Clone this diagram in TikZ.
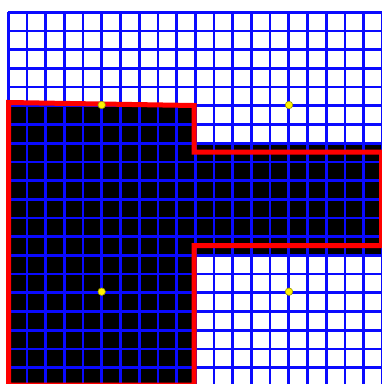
\documentclass[tikz,border=0pt]{standalone}
\usepackage{tikz}
\begin{document}
\begin{tikzpicture}[x=1pt,y=-1pt,
  gridline/.style={draw={rgb,255:red,10;green,10;blue,255},line width=2.7pt},
  outline/.style={draw={rgb,255:red,255;green,0;blue,0},line width=5pt,line join=miter},
  dot/.style={circle,fill=yellow,draw={rgb,255:red,150;green,150;blue,0},line width=0.6pt,inner sep=0pt,minimum size=7.5pt}]
\useasboundingbox (0,0) rectangle (382,384);
\clip (0,0) rectangle (382,384);
\fill[white] (0,0) rectangle (382,384);
\def\xo{8.3}\def\yo{12.3}\def\s{18.7}
% black region (cell aligned)
\fill[black] (\xo,\yo+5*\s) rectangle (\xo+10*\s,400);
\fill[black] (\xo+10*\s,\yo+7*\s) rectangle (\xo+20*\s,\yo+13*\s);
% grid
\foreach \i in {0,...,20}{
  \draw[gridline] (\xo+\i*\s,\yo) -- (\xo+\i*\s,400);
  \draw[gridline] (\xo,\yo+\i*\s) -- (\xo+20*\s+3,\yo+\i*\s);
}
% red outline
\draw[outline] (8.5,102.5) -- (194,105.5) -- (194,152) -- (381.5,152) -- (381.5,245.5) -- (194,245.5) -- (194,385) -- (8.5,385) -- cycle;
% yellow points
\node[dot] (p1) at (101.7,105) {};
\node[dot] (p2) at (289,105) {};
\node[dot] (p3) at (101.7,291.7) {};
\node[dot] (p4) at (289,291.7) {};
\end{tikzpicture}
\end{document}
